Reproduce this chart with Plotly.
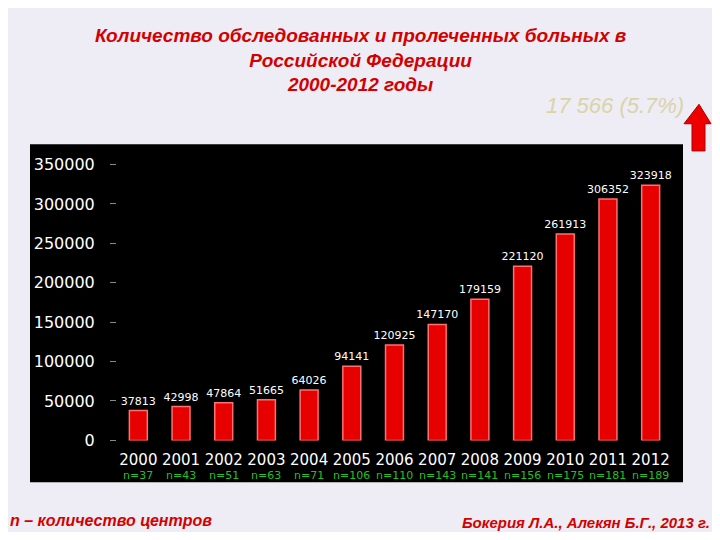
import plotly.graph_objects as go

years = [str(y) for y in range(2000, 2013)]
values = [37813, 42998, 47864, 51665, 64026, 94141, 120925, 147170, 179159, 221120, 261913, 306352, 323918]
centers = ["n=37", "n=43", "n=51", "n=63", "n=71", "n=106", "n=110", "n=143", "n=141", "n=156", "n=175", "n=181", "n=189"]
y_ticks = [0, 50000, 100000, 150000, 200000, 250000, 300000, 350000]
xpos = list(range(len(years)))

OFF = 8
W, H = 720 - 2 * OFF, 540 - 2 * OFF
def px(x): return (x - OFF) / W
def py(y): return 1 - (y - OFF) / H

fig = go.Figure()
fig.add_trace(go.Bar(
    x=xpos, y=values, width=0.42,
    marker=dict(color="#e60000", line=dict(color="#ff7070", width=1.5)),
    text=[str(v) for v in values], textposition="outside", cliponaxis=False, constraintext="none",
    textfont=dict(color="white", size=11, family="DejaVu Sans"),
))
for i, n in zip(xpos, centers):
    fig.add_annotation(x=i, y=0, xref="x", yref="y", text=n, showarrow=False, yshift=-35, yanchor="middle",
                       font=dict(color="#22c022", size=11, family="DejaVu Sans"))

fig.add_shape(type="rect", xref="paper", yref="paper", x0=px(30), x1=px(683), y0=py(491), y1=py(143),
              fillcolor="black", line=dict(width=0), layer="below")
fig.add_shape(type="path", xref="paper", yref="paper",
              path=f"M {px(692)},{py(150)} L {px(692)},{py(122)} L {px(684)},{py(122)} L {px(699)},{py(102)} L {px(711)},{py(122)} L {px(705)},{py(122)} L {px(705)},{py(150)} Z",
              fillcolor="#ee0000", line=dict(color="#aa0000", width=1))

fig.add_annotation(xref="paper", yref="paper", x=px(360), y=py(56), yanchor="middle", showarrow=False,
    text="<b><i>Количество обследованных и пролеченных больных в<br>Российской Федерации<br>2000-2012 годы</i></b>",
    font=dict(color="#d40000", size=19, family="Liberation Sans"), align="center")
fig.add_annotation(xref="paper", yref="paper", x=px(686), y=py(103), xanchor="right", yanchor="middle", showarrow=False,
    text="<i>17 566 (5.7%)</i>", font=dict(color="#d8d4aa", size=22, family="Liberation Sans"))
fig.add_annotation(xref="paper", yref="paper", x=0, y=py(530), xanchor="left", yanchor="middle", showarrow=False,
    text="<b><i>n – количество центров</i></b>", font=dict(color="#d40000", size=16, family="Liberation Sans"))
fig.add_annotation(xref="paper", yref="paper", x=1, y=py(532), xanchor="right", yanchor="middle", showarrow=False,
    text="<b><i>Бокерия Л.А., Алекян Б.Г., 2013 г.</i></b>", font=dict(color="#d40000", size=15, family="Liberation Sans"))

fig.update_layout(
    width=W, height=H, margin=dict(l=0, r=0, t=0, b=0),
    paper_bgcolor="#eeecf4", plot_bgcolor="black", showlegend=False,
    xaxis=dict(domain=[px(117), px(672)], range=[-0.5, 12.5], showgrid=False, zeroline=False,
               tickvals=xpos, ticktext=years, ticklabelstandoff=9,
               tickfont=dict(color="white", size=15, family="DejaVu Sans"), ticks="", ticklen=0),
    yaxis=dict(domain=[py(448), py(160)], range=[0, 355000], tickvals=y_ticks, showgrid=False, zeroline=False,
               ticks="outside", ticklen=6, tickcolor="#888", tickfont=dict(color="white", size=16, family="DejaVu Sans"),
               ticklabelstandoff=12, tickformat="d"),
)
fig.write_html("out.html")
